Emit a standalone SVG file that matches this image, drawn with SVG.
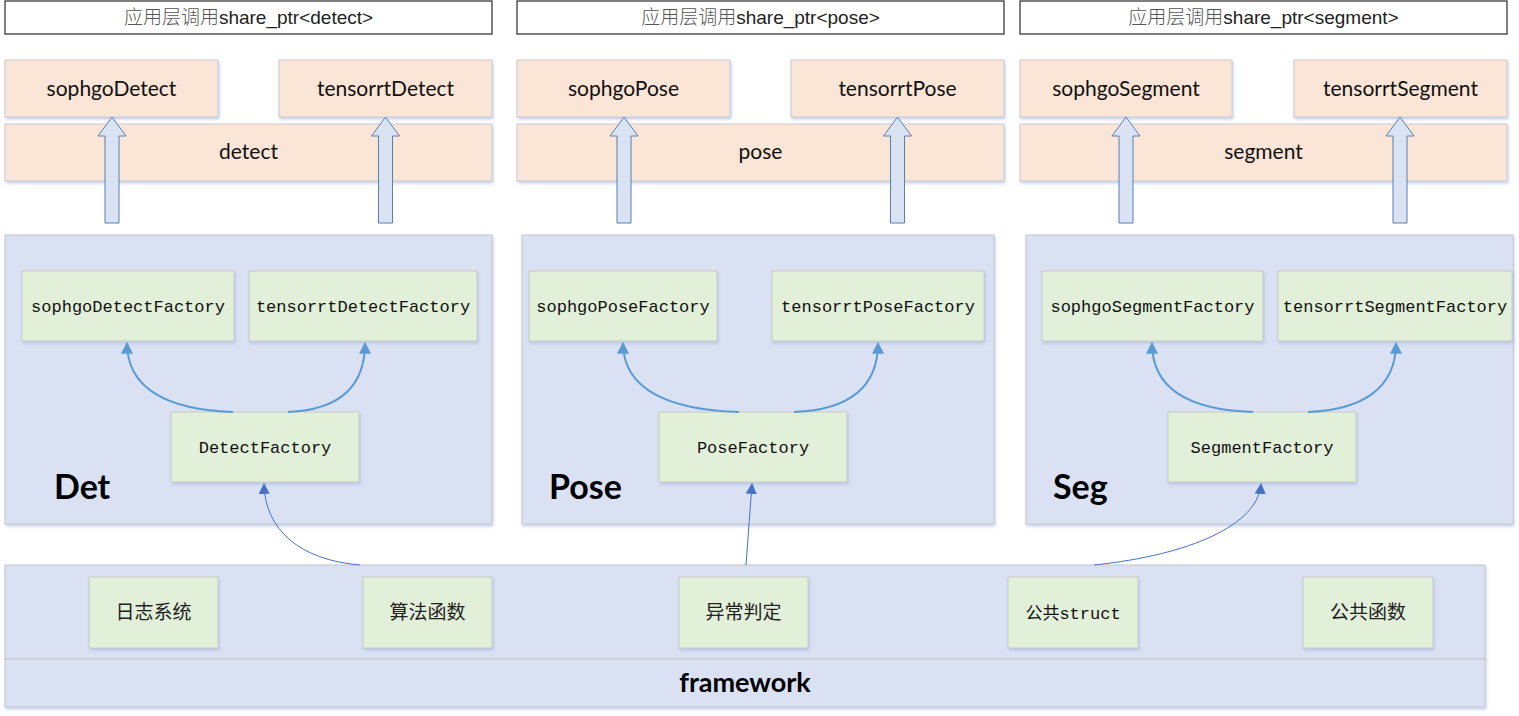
<svg xmlns="http://www.w3.org/2000/svg" width="1519" height="716" viewBox="0 0 1519 716">
<style>
.title{fill:#fff;stroke:#3a3a3a;stroke-width:1.3}
.orange{fill:#fbe5d6;stroke:#c9ccd4;stroke-width:1;filter:url(#sh)}
.panel{fill:#dae1f3;stroke:#c8c8cc;stroke-width:1;filter:url(#sh)}
.green{fill:#e2efd9;stroke:#c8ccc4;stroke-width:1;filter:url(#sh)}
.tt{font-family:"Liberation Sans","Noto Sans CJK SC",sans-serif;font-size:19px;fill:#222;text-anchor:middle}
.tt .cj{fill:#555;font-weight:300}
.ot{font-family:Lato,"Liberation Sans",sans-serif;font-size:21px;fill:#111;text-anchor:middle}
.ft{font-family:"Liberation Mono","Noto Sans CJK SC",monospace;font-size:17px;fill:#111;text-anchor:middle}
.ct{font-family:"Noto Sans CJK SC",sans-serif;font-size:19px;fill:#222;text-anchor:middle}
.big{font-family:Lato,"Liberation Sans",sans-serif;font-weight:bold;font-size:34px;fill:#000}
.fw{font-family:Lato,"Liberation Sans",sans-serif;font-weight:bold;font-size:27px;fill:#000;text-anchor:middle}
.blk{fill:#dae3f3;stroke:#5b7fb0;stroke-width:1}
.cv{fill:none;stroke:#5b9bd5;stroke-width:2;marker-end:url(#ah)}
.cv2{fill:none;stroke:#4472c4;stroke-width:1;marker-end:url(#ah2)}
</style>
<defs>
<filter id="sh" x="-5%" y="-5%" width="115%" height="130%">
<feDropShadow dx="1" dy="2" stdDeviation="1.5" flood-color="#9fb6e0" flood-opacity="0.6"/>
</filter>
<marker id="ah" viewBox="0 0 10 10" refX="9" refY="5" markerWidth="12" markerHeight="12" markerUnits="userSpaceOnUse" orient="auto"><path d="M0,0 L10,5 L0,10 z" fill="#5b9bd5"/></marker>
<marker id="ah2" viewBox="0 0 10 10" refX="9" refY="5" markerWidth="11" markerHeight="11" markerUnits="userSpaceOnUse" orient="auto"><path d="M0,0 L10,5 L0,10 z" fill="#4472c4"/></marker>
</defs>
<rect width="1519" height="716" fill="#fff"/>

<!-- Title boxes -->
<g id="title-detect"><rect class="title" x="5" y="1" width="487" height="33"/><text class="tt" x="248.5" y="24"><tspan class="cj">应用层调用</tspan>share_ptr&lt;detect&gt;</text></g>
<g id="title-pose"><rect class="title" x="517" y="1" width="487" height="33"/><text class="tt" x="760.5" y="24"><tspan class="cj">应用层调用</tspan>share_ptr&lt;pose&gt;</text></g>
<g id="title-segment"><rect class="title" x="1020" y="1" width="487" height="33"/><text class="tt" x="1263.5" y="24"><tspan class="cj">应用层调用</tspan>share_ptr&lt;segment&gt;</text></g>

<!-- Orange boxes -->
<g id="sophgoDetect"><rect class="orange" x="5" y="60" width="213" height="57"/><text class="ot" x="111.5" y="96">sophgoDetect</text></g>
<g id="tensorrtDetect"><rect class="orange" x="279" y="60" width="213" height="57"/><text class="ot" x="385.5" y="96">tensorrtDetect</text></g>
<g id="detect"><rect class="orange" x="5" y="124" width="487" height="57"/><text class="ot" x="248.5" y="159">detect</text></g>

<g id="sophgoPose"><rect class="orange" x="517" y="60" width="213" height="57"/><text class="ot" x="623.5" y="96">sophgoPose</text></g>
<g id="tensorrtPose"><rect class="orange" x="791" y="60" width="213" height="57"/><text class="ot" x="897.5" y="96">tensorrtPose</text></g>
<g id="pose"><rect class="orange" x="517" y="124" width="487" height="57"/><text class="ot" x="760.5" y="159">pose</text></g>

<g id="sophgoSegment"><rect class="orange" x="1020" y="60" width="212" height="57"/><text class="ot" x="1126" y="96">sophgoSegment</text></g>
<g id="tensorrtSegment"><rect class="orange" x="1294" y="60" width="213" height="57"/><text class="ot" x="1400.5" y="96">tensorrtSegment</text></g>
<g id="segment"><rect class="orange" x="1020" y="124" width="487" height="57"/><text class="ot" x="1263.5" y="159">segment</text></g>

<!-- Panels -->
<g id="Det"><rect class="panel" x="5" y="235" width="487" height="289"/><text class="big" x="54" y="499">Det</text></g>
<g id="Pose"><rect class="panel" x="522" y="235" width="472" height="289"/><text class="big" x="549" y="499">Pose</text></g>
<g id="Seg"><rect class="panel" x="1026" y="235" width="487" height="289"/><text class="big" x="1053" y="499">Seg</text></g>

<!-- Factories -->
<g id="sophgoDetectFactory"><rect class="green" x="22" y="271" width="212" height="70"/><text class="ft" x="128" y="312">sophgoDetectFactory</text></g>
<g id="tensorrtDetectFactory"><rect class="green" x="249" y="271" width="228" height="70"/><text class="ft" x="363" y="312">tensorrtDetectFactory</text></g>
<g id="DetectFactory"><rect class="green" x="171" y="412" width="188" height="70"/><text class="ft" x="265" y="453">DetectFactory</text></g>

<g id="sophgoPoseFactory"><rect class="green" x="529" y="271" width="188" height="70"/><text class="ft" x="623" y="312">sophgoPoseFactory</text></g>
<g id="tensorrtPoseFactory"><rect class="green" x="772" y="271" width="212" height="70"/><text class="ft" x="878" y="312">tensorrtPoseFactory</text></g>
<g id="PoseFactory"><rect class="green" x="659" y="412" width="188" height="70"/><text class="ft" x="753" y="453">PoseFactory</text></g>

<g id="sophgoSegmentFactory"><rect class="green" x="1042" y="271" width="221" height="70"/><text class="ft" x="1152.5" y="312">sophgoSegmentFactory</text></g>
<g id="tensorrtSegmentFactory"><rect class="green" x="1278" y="271" width="234" height="70"/><text class="ft" x="1395" y="312">tensorrtSegmentFactory</text></g>
<g id="SegmentFactory"><rect class="green" x="1168" y="412" width="188" height="70"/><text class="ft" x="1262" y="453">SegmentFactory</text></g>

<!-- Framework -->
<g id="framework">
<rect class="panel" x="5" y="565" width="1480" height="94"/>
<rect class="panel" x="5" y="659" width="1480" height="48"/>
<text class="fw" x="745" y="692">framework</text>
</g>
<g id="log"><rect class="green" x="89" y="577" width="129" height="71"/><text class="ct" x="153.5" y="619">日志系统</text></g>
<g id="algo"><rect class="green" x="363" y="577" width="129" height="71"/><text class="ct" x="427.5" y="619">算法函数</text></g>
<g id="except"><rect class="green" x="679" y="577" width="129" height="71"/><text class="ct" x="743.5" y="619">异常判定</text></g>
<g id="struct"><rect class="green" x="1008" y="577" width="130" height="71"/><text class="ft" x="1073" y="619">公共struct</text></g>
<g id="func"><rect class="green" x="1303" y="577" width="130" height="71"/><text class="ct" x="1368" y="619">公共函数</text></g>

<!-- Connectors -->
<g id="connectors">
<polygon class="blk" points="112,117 126,136 119,136 119,223 105,223 105,136 98,136"/>
<polygon class="blk" points="385.5,117 399.5,136 392.5,136 392.5,223 378.5,223 378.5,136 371.5,136"/>
<polygon class="blk" points="624,117 638,136 631,136 631,223 617,223 617,136 610,136"/>
<polygon class="blk" points="897.5,117 911.5,136 904.5,136 904.5,223 890.5,223 890.5,136 883.5,136"/>
<polygon class="blk" points="1126,117 1140,136 1133,136 1133,223 1119,223 1119,136 1112,136"/>
<polygon class="blk" points="1400,117 1414,136 1407,136 1407,223 1393,223 1393,136 1386,136"/>

<path class="cv" d="M233,412 C170,410 127,390 127,343"/>
<path class="cv" d="M288,412 C335,410 365,390 365,343"/>
<path class="cv" d="M739,412 C670,410 623,390 623,343"/>
<path class="cv" d="M794,412 C845,410 878,390 878,343"/>
<path class="cv" d="M1253,412 C1190,410 1152,390 1152,343"/>
<path class="cv" d="M1308,412 C1360,410 1396,390 1396,343"/>

<path class="cv2" d="M360,565 C300,560 265,530 264,484"/>
<path class="cv2" d="M746,565 L752,484"/>
<path class="cv2" d="M1094,565 C1190,555 1258,525 1261,484"/>
</g>
</svg>
